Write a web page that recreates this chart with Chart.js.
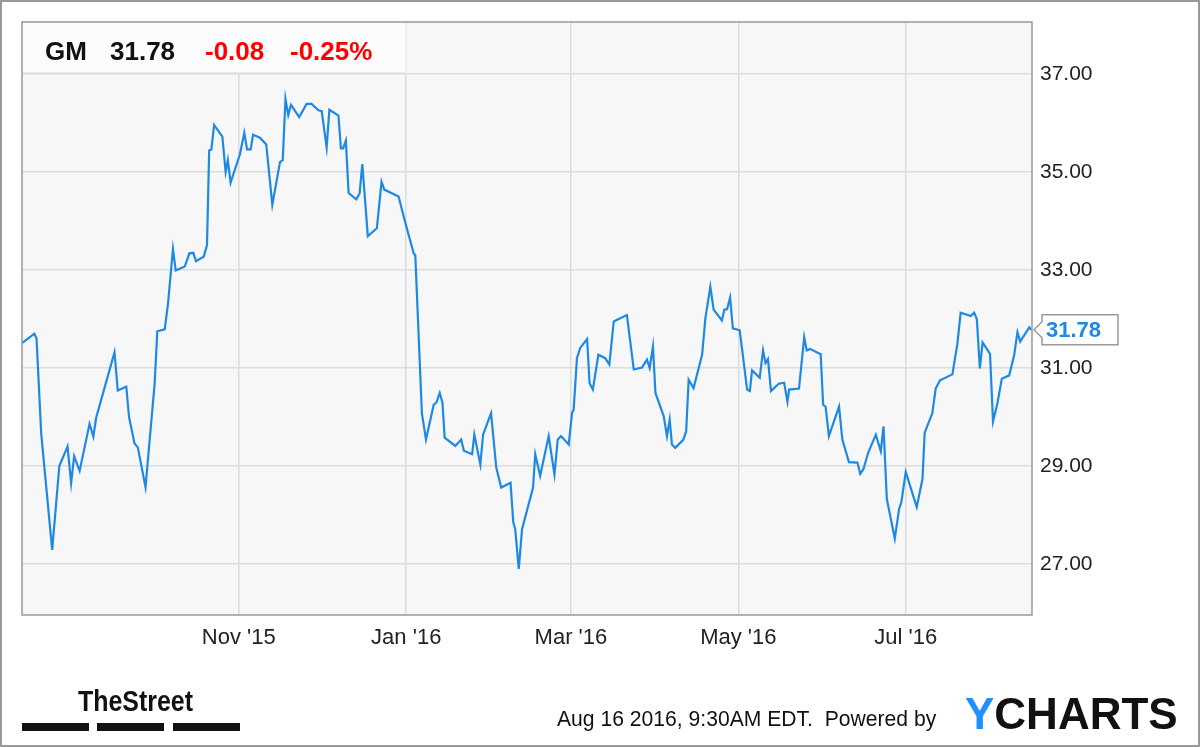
<!DOCTYPE html>
<html><head><meta charset="utf-8">
<script src="https://cdn.jsdelivr.net/npm/chart.js@4"></script>
<style>html,body{margin:0;padding:0;background:#fff}#w{width:1200px;height:747px;position:relative}</style>
</head><body><div id="w"><canvas id="c" width="1200" height="747"></canvas></div>
<script>
// Days since 2015-08-14
const dayOffsets = [0,4.5,5.3,7,11,13.6,16.6,17.9,19,21,24.6,26,27,30.4,33.7,34.9,38,39,41,42.2,45,48.3,49.3,52,53.2,55,56,59.3,61,62.4,63.4,66.2,67.4,68.2,69,70,73,74.2,75,76,79.4,81,82,83.3,84.2,86.7,89,91.2,94,95,96,97,98,101,103.7,105.5,108,109.2,111,112,115.3,116.2,117,118,119,121.8,123,124,126,129.3,131,132,137.2,139.7,142.7,143.3,145.7,147.2,150,151,152.2,153.2,154,157.9,160,161,164,164.8,167,168,170.9,172.8,174.6,178,179,179.7,181,182.2,186.2,187,188.8,191.9,194,195.2,196.4,199.2,200.4,201,202.2,203.4,205.9,206.8,208,210,212.5,214,215.6,217.4,220.4,222.9,225.9,227.7,228.7,229.9,230.8,233.8,235,236,236.8,238,241,242,242.9,244.7,247.8,249,250.8,252,255,255.9,256.9,258,259,261.5,263,264.2,265.2,266,268.8,270,270.9,271.8,272.9,275.7,277.7,278.9,279.5,283.1,285,285.9,287.1,291,291.9,292.8,294,297.7,298.9,301.3,304.4,305.4,306.6,308.3,311.1,312.9,313.9,315.1,318,319.6,320.4,322,326,328.1,328.9,331.7,332.9,334.5,339,340.8,342,345.7,346.9,347.9,349,350,352.7,353.8,355.4,357,359.7,361.5,362.7,363.7,367,367.8];
const prices = [31.51,31.7,31.6,29.66,27.29,29.0,29.4,28.65,29.2,28.9,29.86,29.6,29.98,30.66,31.32,30.54,30.62,30.0,29.46,29.38,28.57,30.66,31.75,31.79,32.31,33.43,32.99,33.07,33.34,33.35,33.18,33.27,33.51,35.44,35.46,35.96,35.72,35.0,35.24,34.78,35.36,35.8,35.46,35.46,35.76,35.7,35.56,34.33,35.2,35.24,36.49,36.16,36.37,36.12,36.39,36.39,36.26,36.24,35.5,36.27,36.15,35.48,35.48,35.64,34.57,34.44,34.56,35.16,33.69,33.85,34.8,34.64,34.5,33.96,33.34,33.3,30.08,29.54,30.25,30.3,30.49,30.29,29.58,29.41,29.54,29.31,29.24,29.64,29.03,29.64,30.08,28.97,28.56,28.66,27.85,27.71,26.9,27.71,28.56,29.24,28.8,29.61,28.83,29.54,29.61,29.44,30.08,30.15,31.2,31.41,31.59,30.69,30.56,31.27,31.2,31.07,31.95,32.0,32.08,30.97,31.01,31.17,31.0,31.44,30.49,30.02,29.61,29.95,29.44,29.37,29.54,29.71,30.76,30.59,31.27,32.02,32.66,32.19,31.97,32.19,32.2,32.44,31.81,31.77,31.1,30.56,30.53,30.95,30.8,31.36,31.1,31.18,30.53,30.68,30.7,30.31,30.56,30.58,31.63,31.36,31.39,31.28,30.25,30.21,29.61,30.21,29.54,29.08,29.07,28.84,28.94,29.27,29.64,29.3,29.81,28.33,27.52,28.13,28.26,28.88,28.16,28.74,29.68,30.08,30.58,30.75,30.87,31.49,32.13,32.06,32.13,32.0,30.99,31.52,31.29,29.91,30.28,30.78,30.85,31.26,31.73,31.54,31.83,31.78];
const monthTickDays = [79,140,200,261,322];
const monthTickLabels = ["Nov '15","Jan '16","Mar '16","May '16","Jul '16"];
const yTicks = [27,29,31,33,35,37];
const lastPrice = "31.78", change = "-0.08", changePct = "-0.25%", ticker = "GM";

const deco = {
  id:'deco',
  beforeDraw(ch){
    const c=ch.ctx,a=ch.chartArea;
    c.save();c.fillStyle='#f7f7f7';c.fillRect(a.left,a.top,a.right-a.left,a.bottom-a.top);c.restore();
  },
  afterDatasetsDraw(ch){
    const c=ch.ctx,a=ch.chartArea;
    c.save();
    c.fillStyle='rgba(252,252,252,0.95)';c.fillRect(a.left+1,a.top+1,383,50);
    c.strokeStyle='#ebebeb';c.lineWidth=1;c.beginPath();c.moveTo(a.left+1,a.top+50.5);c.lineTo(a.left+384,a.top+50.5);c.lineTo(a.left+384,a.top+1);c.stroke();
    c.textBaseline='alphabetic';c.font='bold 26px "Liberation Sans", Arial, sans-serif';
    c.fillStyle='#111';c.fillText(ticker,45,60);c.fillText(lastPrice,110,60);
    c.fillStyle='#f00';c.fillText(change,205,60);c.fillText(changePct,290,60);
    c.strokeStyle='#999';c.lineWidth=1.5;c.strokeRect(a.left,a.top,a.right-a.left,a.bottom-a.top);
    c.strokeStyle='#999';c.lineWidth=2;c.strokeRect(1,1,1198,745);
    const ys=ch.scales.y.getPixelForValue(parseFloat(lastPrice));
    c.fillStyle='#fff';c.strokeStyle='#999';c.lineWidth=1.5;
    c.beginPath();c.moveTo(a.right+2,ys);c.lineTo(a.right+10,ys-8);c.lineTo(a.right+10,ys-15);c.lineTo(1118,ys-15);c.lineTo(1118,ys+15);c.lineTo(a.right+10,ys+15);c.lineTo(a.right+10,ys+8);c.closePath();c.fill();c.stroke();
    c.fillStyle='#1e88e5';c.font='bold 22px "Liberation Sans", Arial, sans-serif';c.textBaseline='middle';c.fillText(lastPrice,1046,ys+1);
    c.fillStyle='#111';c.textBaseline='alphabetic';
    c.font='bold 29px "Liberation Sans Narrow", "Liberation Sans", sans-serif';
    c.save();c.translate(78,711);c.scale(0.86,1);c.fillText('TheStreet',0,0);c.restore();
    c.fillRect(22,723,67,8);c.fillRect(97,723,67,8);c.fillRect(173,723,67,8);
    c.font='22px "Liberation Sans Narrow", "Liberation Sans", sans-serif';
    c.save();c.translate(557,726);c.scale(0.96,1);c.fillText('Aug 16 2016, 9:30AM EDT.  Powered by',0,0);c.restore();
    c.font='bold 44px "Liberation Sans", Arial, sans-serif';
    c.fillStyle='#1e90ff';c.fillText('Y',965,729);const yw=c.measureText('Y').width;
    c.fillStyle='#111';c.fillText('CHARTS',965+yw,729);
    c.restore();
  }
};

new Chart(document.getElementById('c'),{
  type:'line',
  data:{datasets:[{data:dayOffsets.map((d,i)=>({x:d,y:prices[i]})),borderColor:'#1e88e5',borderWidth:2.2,pointRadius:0,tension:0,fill:false}]},
  options:{
    responsive:false,animation:false,
    layout:{padding:{left:22,top:22,right:0,bottom:0}},
    plugins:{legend:{display:false},tooltip:{enabled:false}},
    scales:{
      x:{type:'linear',min:0,max:368,
        afterBuildTicks(s){s.ticks=monthTickDays.map(v=>({value:v}));},
        afterFit(s){s.height=132;},
        ticks:{autoSkip:false,maxRotation:0,padding:10,color:'#222',font:{size:22,family:'"Liberation Sans Narrow", "Liberation Sans", sans-serif'},
          callback:(v)=>monthTickLabels[monthTickDays.indexOf(v)]},
        grid:{color:'#dcdcdc',lineWidth:1.5,drawTicks:false},border:{display:false}},
      y:{position:'right',min:25.96,max:38.06,
        afterBuildTicks(s){s.ticks=yTicks.map(v=>({value:v}));},
        afterFit(s){s.width=168;},
        ticks:{padding:8,color:'#222',font:{size:21,family:'"Liberation Sans", Arial, sans-serif'},callback:v=>v.toFixed(2)},
        grid:{color:'#dcdcdc',lineWidth:1.5,drawTicks:false},border:{display:false}}
    }
  },
  plugins:[deco]
});
</script></body></html>
